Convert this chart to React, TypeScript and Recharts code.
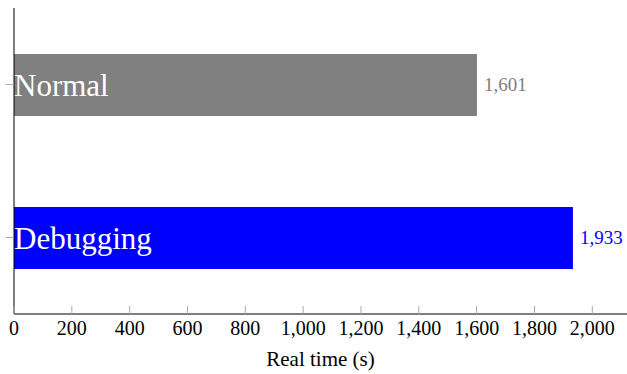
import { BarChart, Bar, XAxis, YAxis, Cell, LabelList } from 'recharts';

// run times in seconds
const categories = ['Normal', 'Debugging'];
const realTime = [1601, 1933];
const barColors = ['#808080', '#0000ff'];
const xTicks = [0, 200, 400, 600, 800, 1000, 1200, 1400, 1600, 1800, 2000];
const xTitle = 'Real time (s)';

const chartData = categories.map((name, i) => ({ name, value: realTime[i] }));

const serif = '"Liberation Serif", "Times New Roman", serif';
const fmt = (v: number) => v.toLocaleString('en-US');

const XTick = (props: any) => {
  const { x, y, payload } = props;
  return (
    <g>
      <line x1={x} x2={x} y1={y} y2={y - 8} stroke="#a8a8a8" strokeWidth={1} />
      <text x={x} y={y + 21} textAnchor="middle" fontFamily={serif} fontSize={20} fill="#000">
        {fmt(payload.value)}
      </text>
    </g>
  );
};

// y ticks: just the little outward mark, the names sit inside the bars
const YTick = (props: any) => {
  const { x, y } = props;
  return <line x1={x - 8} x2={x} y1={y} y2={y} stroke="#a8a8a8" strokeWidth={1} />;
};

const ValueLabel = (props: any) => {
  const vb = props.viewBox ?? props;
  const { x, y, width, height } = vb;
  const i = realTime.indexOf(Number(props.value));
  return (
    <text
      x={x + width + 7}
      y={y + height / 2 + 6}
      fontFamily={serif}
      fontSize={19}
      fill={barColors[i] ?? '#000'}
    >
      {fmt(Number(props.value))}
    </text>
  );
};

export default function App() {
  return (
    <div style={{ position: 'absolute', left: 0, top: 0, width: 627, height: 374, background: '#fff' }}>
      <BarChart
        width={627}
        height={374}
        data={chartData}
        layout="vertical"
        margin={{ top: 8, right: 0, bottom: 0, left: 0 }}
      >
        <XAxis
          type="number"
          dataKey="value"
          domain={[0, 2120]}
          ticks={xTicks}
          interval={0}
          height={60}
          tickSize={0}
          tickMargin={0}
          tick={<XTick />}
          axisLine={{ stroke: '#000', strokeWidth: 1 }}
        />
        <YAxis
          type="category"
          dataKey="name"
          width={14}
          tickSize={0}
          tickMargin={0}
          tickLine={false}
          tick={<YTick />}
          axisLine={{ stroke: '#000', strokeWidth: 1 }}
        />
        <Bar dataKey="value" barSize={62} isAnimationActive={false}>
          {chartData.map((entry, index) => (
            <Cell key={`cell-${index}`} fill={barColors[index]} />
          ))}
          <LabelList
            dataKey="name"
            position="insideLeft"
            offset={0}
            fill="#ffffff"
            style={{ fontFamily: serif, fontSize: 31 }}
          />
          <LabelList dataKey="value" content={<ValueLabel />} />
        </Bar>
      </BarChart>
      <div
        style={{
          position: 'absolute',
          left: 14,
          width: 613,
          top: 349,
          textAlign: 'center',
          fontFamily: serif,
          fontSize: 21,
          lineHeight: '21px',
          color: '#000',
        }}
      >
        {xTitle}
      </div>
    </div>
  );
}
